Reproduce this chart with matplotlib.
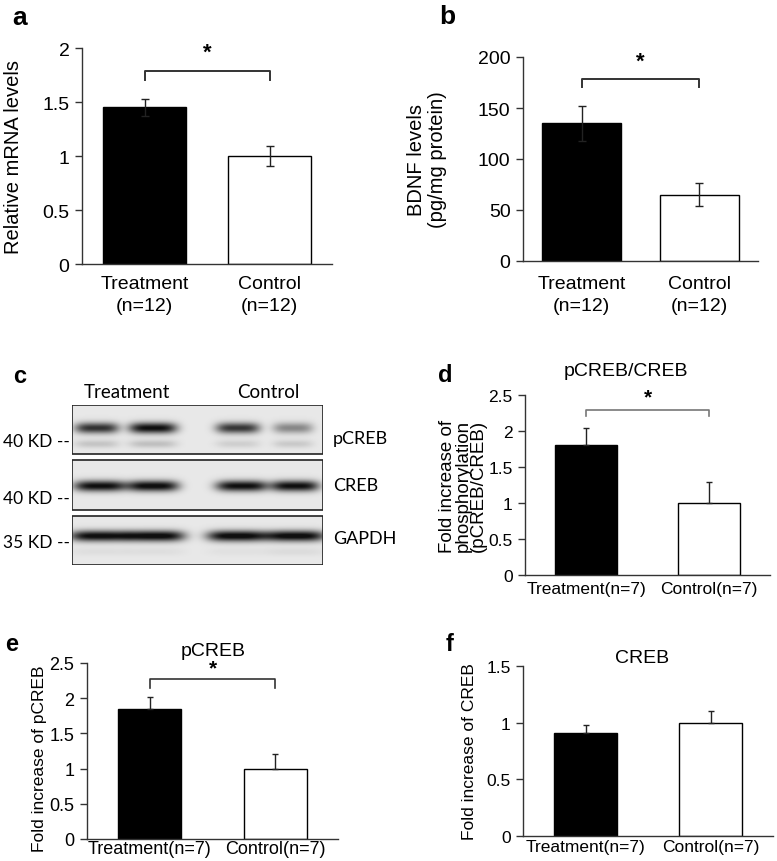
import numpy as np
import matplotlib
matplotlib.use("Agg")
import matplotlib.pyplot as plt
from matplotlib.patches import Rectangle
from matplotlib.ticker import FuncFormatter

plt.rcParams["font.family"] = ["Liberation Sans", "DejaVu Sans"]

W, H = 777, 862
groups = ["Treatment", "Control"]

# a: relative mRNA levels
mrna_mean = [1.45, 1.00]
mrna_err = [0.08, 0.09]
# b: BDNF levels
bdnf_mean = [135, 65]
bdnf_err = [17, 11]
# d: pCREB/CREB
ratio_mean = [1.81, 1.00]
ratio_err = [0.23, 0.29]
# e: pCREB
pcreb_mean = [1.85, 1.00]
pcreb_err = [0.16, 0.21]
# f: CREB
creb_mean = [0.91, 1.00]
creb_err = [0.07, 0.10]

# c: western blot band intensities (4 lanes: 2 treatment, 2 control)
blot_names = ["pCREB", "CREB", "GAPDH"]
blot_markers = ["40 KD --", "40 KD --", "35 KD --"]
lane_x = [[25, 81, 166, 221], [28, 81, 170, 223], [28, 83, 165, 223]]
lane_w = [[22, 24, 22, 20], [26, 26, 26, 24], [30, 30, 30, 30]]
band_dark = [[0.72, 0.86, 0.70, 0.38], [0.86, 0.88, 0.86, 0.86], [0.88, 0.90, 0.90, 0.90]]
band_y = [23, 26, 20]
faint_dark = [[0.14, 0.16, 0.10, 0.12], [0.0, 0.0, 0.0, 0.0], [0.04, 0.04, 0.03, 0.05]]
blot_top = [406, 461, 517]
blot_h = [49, 50, 49]
blot_left, blot_w = 72, 251

fig = plt.figure(figsize=(W / 100, H / 100), dpi=100)


def rect(l, t, r, b):
    return [l / W, 1 - b / H, (r - l) / W, (b - t) / H]


def ftext(x, y, s, **kw):
    fig.text(x / W, 1 - y / H, s, **kw)


def bar_panel(pos, means, errs, width, ylim, ticks, labels, fs, two_sided, xpad):
    ax = fig.add_axes(pos)
    x = np.arange(len(means))
    ax.bar(x, means, width, color=["black", "white"], edgecolor="black", linewidth=1, zorder=2)
    if two_sided:
        ax.errorbar(x, means, yerr=errs, fmt="none", ecolor="#222222", elinewidth=1,
                    capsize=3, capthick=1, zorder=3)
    else:
        ax.errorbar(x, means, yerr=[[0, 0], errs], fmt="none", ecolor="#222222",
                    elinewidth=1, capsize=2.5, capthick=1, zorder=3)
    ax.set_xlim(-0.5, 1.5)
    ax.set_ylim(*ylim)
    ax.set_yticks(ticks)
    ax.yaxis.set_major_formatter(FuncFormatter(lambda v, _: f"{v:g}"))
    ax.set_xticks(x)
    ax.set_xticklabels(labels, fontsize=fs, linespacing=1.4)
    ax.tick_params(axis="x", length=0, pad=xpad)
    ax.tick_params(axis="y", labelsize=fs, length=5, width=1, color="#333333", pad=4)
    for s in ["top", "right"]:
        ax.spines[s].set_visible(False)
    for s in ["left", "bottom"]:
        ax.spines[s].set_color("#333333")
        ax.spines[s].set_linewidth(1)
    ax.patch.set_alpha(0)
    return ax


def bracket(ax, y_top, drop, star_y, color="#333333", lw=1.4, star_fs=16):
    ax.plot([0, 0, 1, 1], [y_top - drop, y_top, y_top, y_top - drop],
            color=color, lw=lw, clip_on=False)
    ax.text(0.5, star_y, "*", ha="center", va="center", fontsize=star_fs,
            fontweight="bold", clip_on=False)


# panel a
ax = bar_panel(rect(82, 49, 332, 265), mrna_mean, mrna_err, 0.67, (0, 2),
               [0, 0.5, 1, 1.5, 2], ["Treatment\n(n=12)", "Control\n(n=12)"], 14, True, 8)
ax.set_ylabel("Relative mRNA levels", fontsize=14.5)
ax.yaxis.set_label_coords(-0.235, 0.5)
bracket(ax, 1.79, 0.09, 1.96)

# panel b
ax = bar_panel(rect(523, 58, 758, 262), bdnf_mean, bdnf_err, 0.67, (0, 200),
               [0, 50, 100, 150, 200], ["Treatment\n(n=12)", "Control\n(n=12)"], 14, True, 10)
ax.set_ylabel("BDNF levels\n(pg/mg protein)", fontsize=14.5, linespacing=1.1)
ax.yaxis.set_label_coords(-0.325, 0.5)
bracket(ax, 178, 7, 196)

# panel d
ax = bar_panel(rect(525, 396, 770, 576), ratio_mean, ratio_err, 0.51, (0, 2.5),
               [0, 0.5, 1, 1.5, 2, 2.5], ["Treatment(n=7)", "Control(n=7)"], 12.5, False, 4)
ax.set_ylabel("Fold increase of\nphosphorylation\n(pCREB/CREB)", fontsize=13.5, linespacing=0.88)
ax.yaxis.set_label_coords(-0.155, 0.5)
bracket(ax, 2.29, 0.08, 2.47, color="#777777", lw=1.2, star_fs=15)

# panel e
ax = bar_panel(rect(87, 664, 338, 840), pcreb_mean, pcreb_err, 0.5, (0, 2.5),
               [0, 0.5, 1, 1.5, 2, 2.5], ["Treatment(n=7)", "Control(n=7)"], 13, False, 1)
ax.set_ylabel("Fold increase of pCREB", fontsize=12.5)
ax.yaxis.set_label_coords(-0.16, 0.46)
bracket(ax, 2.27, 0.13, 2.43, lw=1.2, star_fs=15)

# panel f
ax = bar_panel(rect(523, 667, 773, 837), creb_mean, creb_err, 0.5, (0, 1.5),
               [0, 0.5, 1, 1.5], ["Treatment(n=7)", "Control(n=7)"], 12.5, False, 2)
ax.set_ylabel("Fold increase of CREB", fontsize=12.5)
ax.yaxis.set_label_coords(-0.184, 0.5)

ftext(213, 652, "pCREB", ha="center", va="center", fontsize=14)
ftext(642, 659, "CREB", ha="center", va="center", fontsize=14)
ftext(626, 372, "pCREB/CREB", ha="center", va="center", fontsize=14)

# panel c: western blot
bx = fig.add_axes(rect(blot_left, blot_top[0], blot_left + blot_w, blot_top[-1] + blot_h[-1]))
xx = np.arange(blot_w) + 0.5
for i in range(3):
    hh = blot_h[i]
    yy = np.arange(hh) + 0.5
    X, Y = np.meshgrid(xx, yy)
    img = np.full_like(X, 0.91)
    for j in range(4):
        prof_x = np.exp(-np.abs((X - lane_x[i][j]) / lane_w[i][j]) ** 4)
        img -= band_dark[i][j] * prof_x * np.exp(-((Y - band_y[i]) / 5.5) ** 2)
        img -= faint_dark[i][j] * prof_x * np.exp(-((Y - band_y[i] - 16) / 4) ** 2)
    img = np.clip(img, 0.06, 1)
    t0 = blot_top[i] - blot_top[0]
    bx.imshow(img, cmap="gray", vmin=0, vmax=1, extent=[0, blot_w, t0 + hh, t0],
              aspect="auto", interpolation="bilinear")
    bx.add_patch(Rectangle((0, t0), blot_w, hh, fill=False, edgecolor="#222222", lw=1.2))
bx.set_xlim(0, blot_w)
bx.set_ylim(blot_top[-1] + blot_h[-1] - blot_top[0], 0)
bx.axis("off")

blot_font = ["Lato", "DejaVu Sans"]
marker_y = [442, 499, 543]
name_y = [439, 486, 539]
for i in range(3):
    ftext(70, marker_y[i], blot_markers[i], ha="right", va="center", fontsize=12.5, family=blot_font)
    ftext(333, name_y[i], blot_names[i], ha="left", va="center", fontsize=13, family=blot_font)
ftext(127, 393, "Treatment", ha="center", va="center", fontsize=13.5, family=blot_font)
ftext(268, 393, "Control", ha="center", va="center", fontsize=13.5, family=blot_font)

# panel letters
for lab, x, y, fs in [("a", 20, 18, 19), ("b", 447, 17, 19), ("c", 20, 377, 17),
                      ("d", 445, 375, 17), ("e", 12, 645, 17), ("f", 450, 645, 17)]:
    ftext(x, y, lab, ha="center", va="center", fontsize=fs, fontweight="bold")

fig.savefig("out.png", dpi=100)
